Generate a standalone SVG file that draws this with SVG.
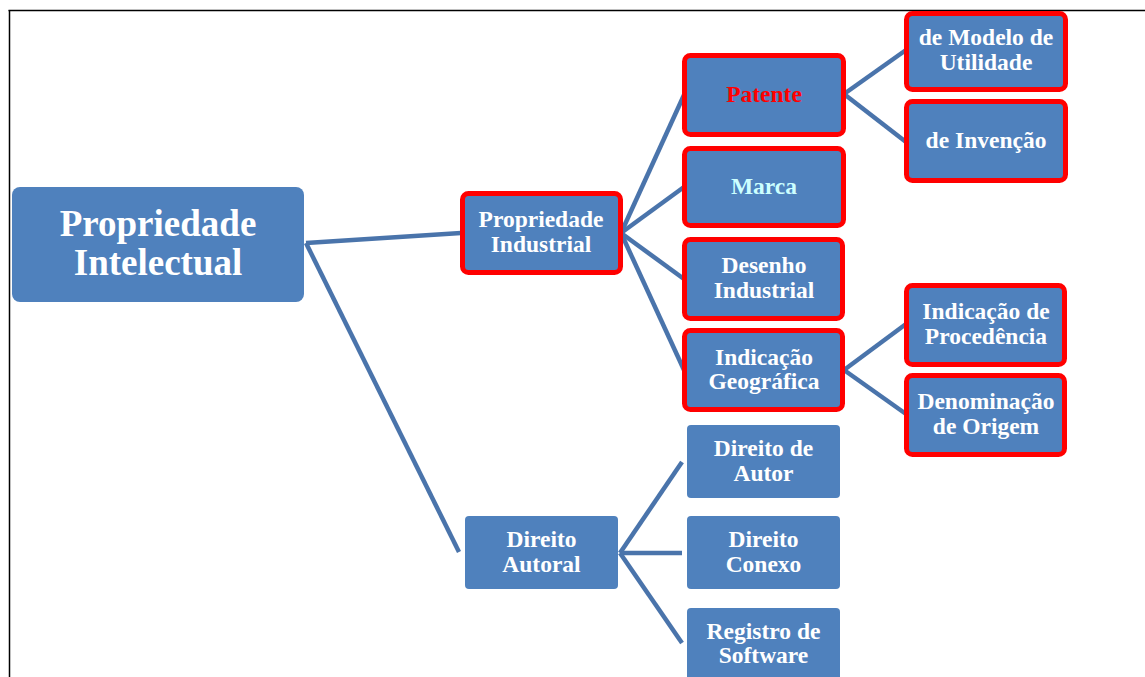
<svg xmlns="http://www.w3.org/2000/svg" width="1145" height="677" viewBox="0 0 1145 677">
<style>
.box{fill:#4F81BD;}
.hl{fill:#4F81BD;stroke:#FF0000;stroke-width:5;}
.plain{fill:#4F81BD;}
text{font-family:"Liberation Serif","Times New Roman",serif;font-weight:bold;fill:#FFFFFF;text-anchor:middle;font-size:23.5px;}
.big{font-size:37px;}
.red{fill:#FF0000;}
.cyan{fill:#CCFFFF;}
.conn line{stroke:#4A74AB;stroke-width:4.5;stroke-linecap:butt;}
</style>
<rect width="1145" height="677" fill="#FFFFFF"/>
<g id="frame">
<line x1="8.5" y1="10.5" x2="1145" y2="10.5" stroke="#000" stroke-width="1.5"/>
<line x1="9.5" y1="10" x2="9.5" y2="677" stroke="#000" stroke-width="1.5"/>
</g>
<g id="connectors" class="conn">
<line x1="306" y1="243" x2="461" y2="233"/>
<line x1="306" y1="243" x2="459" y2="552"/>
<line x1="621" y1="233" x2="684" y2="95"/>
<line x1="621" y1="233" x2="684" y2="187"/>
<line x1="621" y1="233" x2="684" y2="279"/>
<line x1="621" y1="233" x2="684" y2="370"/>
<line x1="844" y1="94" x2="906" y2="50"/>
<line x1="844" y1="94" x2="906" y2="142"/>
<line x1="844" y1="370" x2="906" y2="324"/>
<line x1="844" y1="370" x2="906" y2="414"/>
<line x1="620" y1="553" x2="682" y2="462"/>
<line x1="620" y1="553" x2="682" y2="553"/>
<line x1="620" y1="553" x2="682" y2="643"/>
</g>
<g id="root">
<rect class="plain" x="12" y="187" width="292" height="115" rx="8"/>
<text class="big" x="158" y="236">Propriedade</text>
<text class="big" x="158" y="275">Intelectual</text>
</g>
<g id="propriedade-industrial">
<rect class="hl" x="462.5" y="193.5" width="158" height="79" rx="6"/>
<text x="541" y="227">Propriedade</text>
<text x="541" y="252">Industrial</text>
</g>
<g id="patente">
<rect class="hl" x="684.5" y="55.5" width="159" height="79" rx="6"/>
<text class="red" x="764" y="102">Patente</text>
</g>
<g id="marca">
<rect class="hl" x="684.5" y="148.5" width="159" height="77" rx="6"/>
<text class="cyan" x="764" y="194">Marca</text>
</g>
<g id="desenho-industrial">
<rect class="hl" x="684.5" y="239.5" width="158" height="79" rx="6"/>
<text x="764" y="273">Desenho</text>
<text x="764" y="298">Industrial</text>
</g>
<g id="indicacao-geografica">
<rect class="hl" x="684.5" y="330.5" width="158" height="79" rx="6"/>
<text x="764" y="365">Indicação</text>
<text x="764" y="389">Geográfica</text>
</g>
<g id="modelo-utilidade">
<rect class="hl" x="906.5" y="13.5" width="159" height="76" rx="6"/>
<text x="986" y="45">de Modelo de</text>
<text x="986" y="70">Utilidade</text>
</g>
<g id="invencao">
<rect class="hl" x="906.5" y="101.5" width="159" height="79" rx="6"/>
<text x="986" y="148">de Invenção</text>
</g>
<g id="indicacao-procedencia">
<rect class="hl" x="906.5" y="285.5" width="158" height="79" rx="6"/>
<text x="986" y="319">Indicação de</text>
<text x="986" y="344">Procedência</text>
</g>
<g id="denominacao-origem">
<rect class="hl" x="906.5" y="375.5" width="158" height="79" rx="6"/>
<text x="986" y="409">Denominação</text>
<text x="986" y="434">de Origem</text>
</g>
<g id="direito-autoral">
<rect class="plain" x="465" y="516" width="153" height="73" rx="4"/>
<text x="541.5" y="547">Direito</text>
<text x="541.5" y="572">Autoral</text>
</g>
<g id="direito-autor">
<rect class="plain" x="687" y="425" width="153" height="73" rx="4"/>
<text x="763.5" y="456">Direito de</text>
<text x="763.5" y="481">Autor</text>
</g>
<g id="direito-conexo">
<rect class="plain" x="687" y="516" width="153" height="73" rx="4"/>
<text x="763.5" y="547">Direito</text>
<text x="763.5" y="572">Conexo</text>
</g>
<g id="registro-software">
<rect class="plain" x="687" y="608" width="153" height="73" rx="4"/>
<text x="763.5" y="639">Registro de</text>
<text x="763.5" y="663">Software</text>
</g>
</svg>
